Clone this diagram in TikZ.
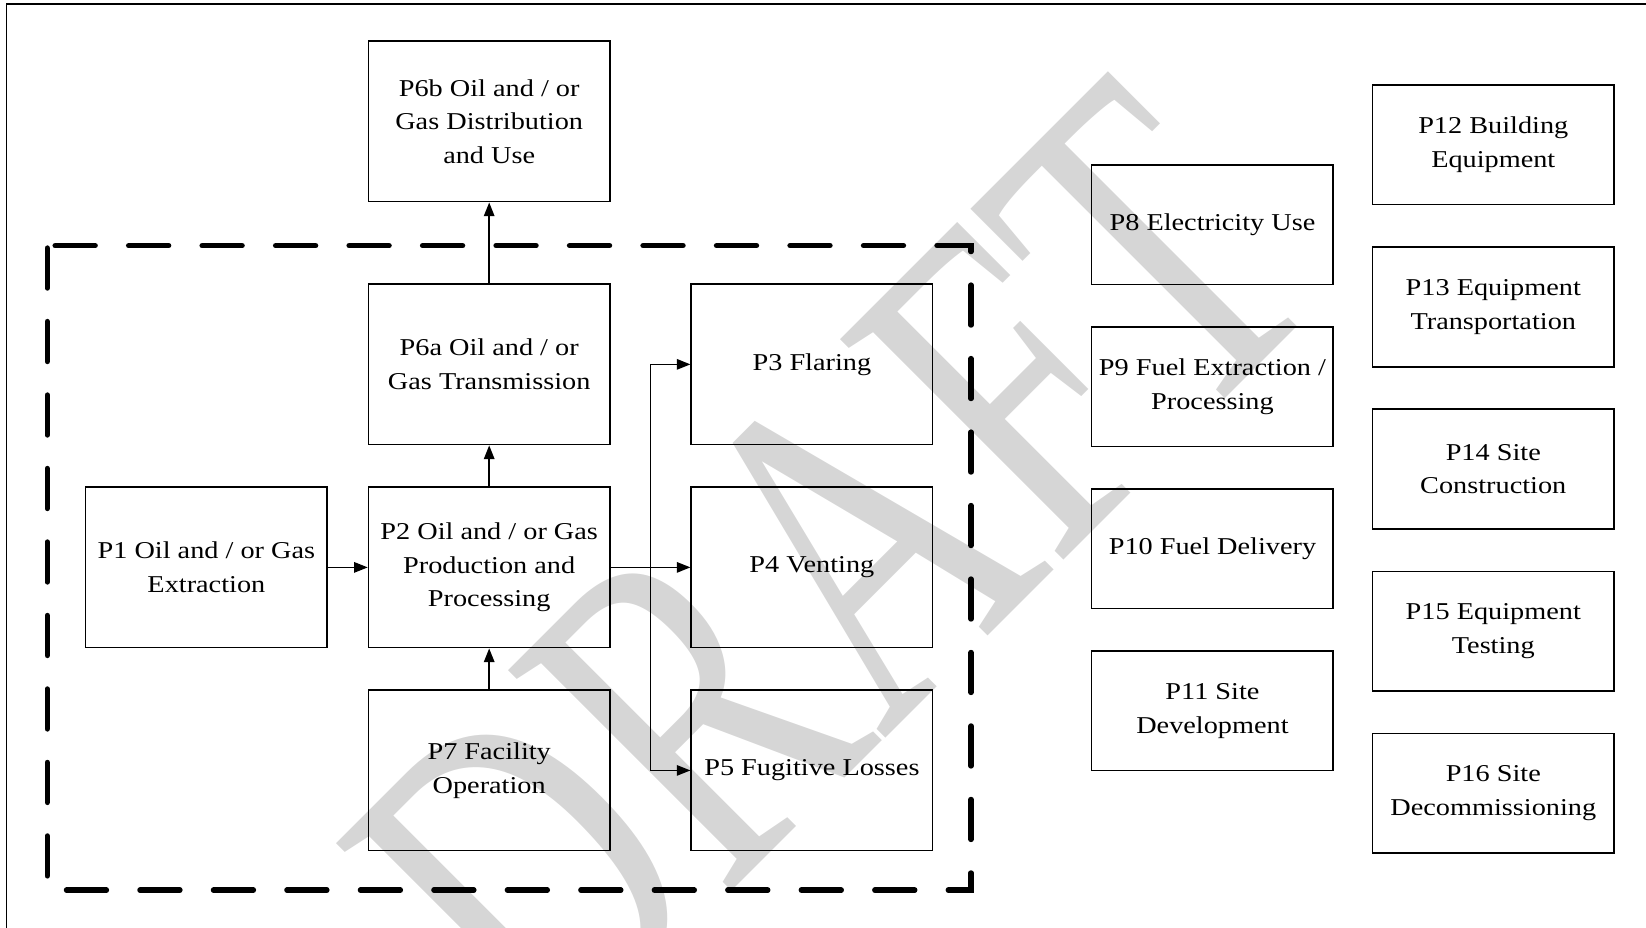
\documentclass[tikz,border=0pt]{standalone}
\usepackage{fontspec}
\setmainfont{Liberation Serif}[FakeStretch=1.17]
\newfontfamily\draftfont{Liberation Serif}
\usetikzlibrary{positioning,arrows.meta}
\tikzstyle{every node}=[font=\fontsize{6.55}{9.1}\selectfont]
\tikzstyle{proc}=[draw=black,line width=0.4pt,align=center,inner sep=0pt,minimum width=2.3cm,minimum height=1.53cm]
\tikzstyle{side}=[proc,minimum height=1.14cm]
\tikzstyle{flow}=[-{Triangle[length=0.13cm,width=0.1cm]},line width=0.4pt]
\tikzstyle{boundary}=[line width=0.052cm,line cap=round,dash pattern=on 0.38cm off 0.32cm,dash phase=0.624cm]

\begin{document}
\begin{tikzpicture}[node distance=0.39cm]
    \useasboundingbox (0,0) rectangle (15.68,-8.84);
    \begin{scope}[shift={(5.25,-10.22)},rotate=45,yscale=1.42]
        \node[transform shape,anchor=base west,inner sep=0pt,text=black!16,font=\draftfont\fontsize{91.5}{91.5}\selectfont] (draft) at (0,0) {DRAFT};
    \end{scope}
    \draw[line width=0.4pt] (0.064,-8.84) |- (15.68,-0.038);
    \draw[boundary] (0.45,-2.34) -- (9.25,-2.34) -- (9.25,-8.48) -- (0.45,-8.48) -- cycle;

    \node[proc] (p2) at (4.66,-5.405) {P2 Oil and / or Gas\\Production and\\Processing};
    \node[proc,above=of p2] (p6a) {P6a Oil and / or\\Gas Transmission};
    \node[proc,above=0.77cm of p6a] (p6b) {P6b Oil and / or\\Gas Distribution\\and Use};
    \node[proc,below=of p2] (p7) {P7 Facility\\Operation};
    \node[proc,left=0.38cm of p2] (p1) {P1 Oil and / or Gas\\Extraction};
    \node[proc,right=0.76cm of p2] (p4) {P4 Venting};
    \node[proc,above=of p4] (p3) {P3 Flaring};
    \node[proc,below=of p4] (p5) {P5 Fugitive Losses};

    \node[side] (p8) at (11.55,-2.14) {P8 Electricity Use};
    \node[side,below=of p8] (p9) {P9 Fuel Extraction /\\Processing};
    \node[side,below=of p9] (p10) {P10 Fuel Delivery};
    \node[side,below=of p10] (p11) {P11 Site\\Development};

    \node[side] (p12) at (14.225,-1.38) {P12 Building\\Equipment};
    \node[side,below=of p12] (p13) {P13 Equipment\\Transportation};
    \node[side,below=of p13] (p14) {P14 Site\\Construction};
    \node[side,below=of p14] (p15) {P15 Equipment\\Testing};
    \node[side,below=of p15] (p16) {P16 Site\\Decommissioning};

    \draw[flow] (p1) -- (p2);
    \draw[flow] (p7) -- (p2);
    \draw[flow] (p2) -- (p6a);
    \draw[flow] (p6a) -- (p6b);
    \draw[flow] (p2) -- (p4);
    \coordinate[right=0.38cm of p2] (split);
    \draw[flow] (split) |- (p3);
    \draw[flow] (split) |- (p5);
\end{tikzpicture}
\end{document}
